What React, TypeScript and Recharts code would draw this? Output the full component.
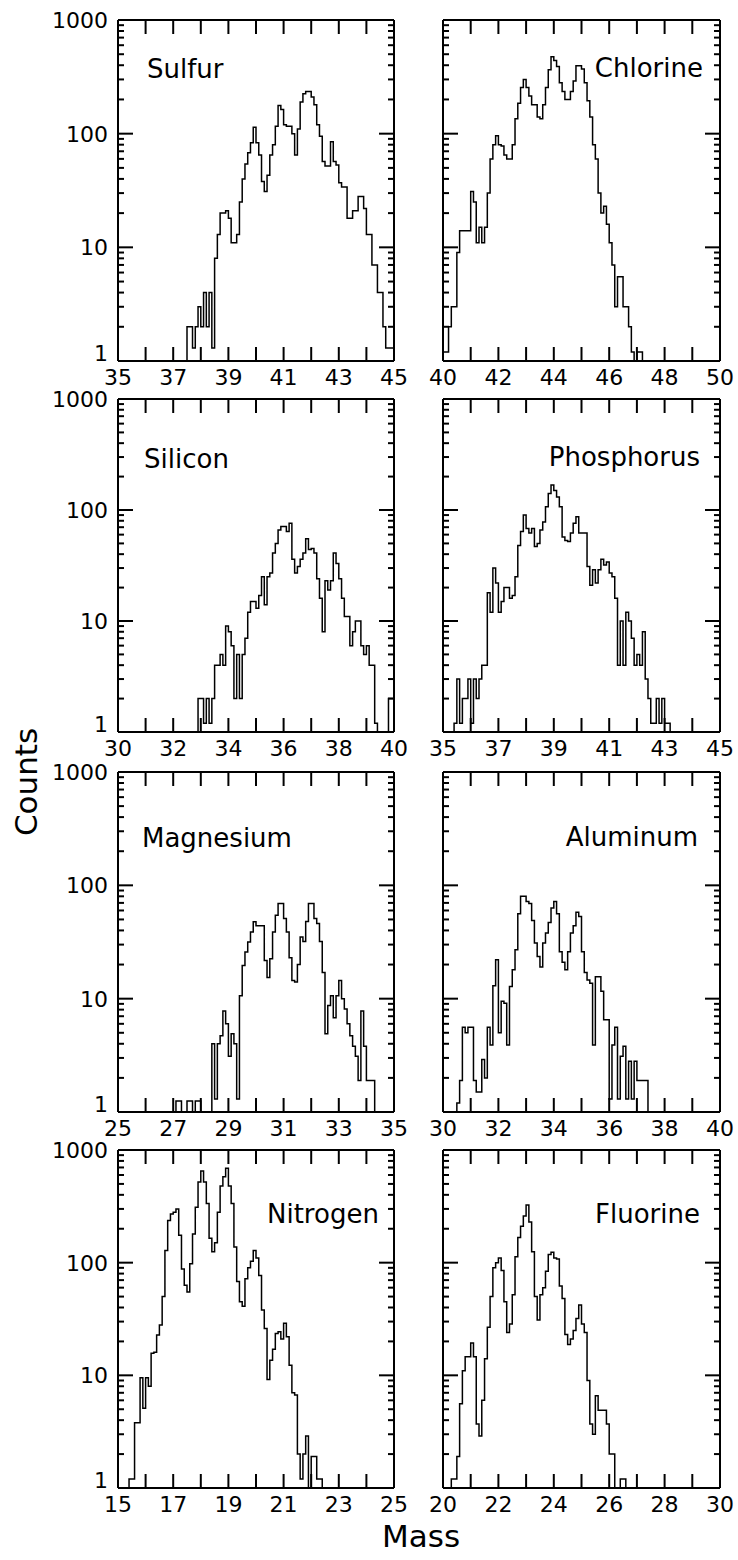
import { LineChart, Line, XAxis, YAxis, ReferenceLine } from 'recharts';

// bin width of every histogram, in mass units
const binWidth = 0.1;

// counts per bin (first bin starts at *Start)
const sulfurStart = 37.5;
const sulfurCounts = [
  2, 2, 1.3, 2, 3, 2, 4, 2, 4, 1.3,
  8, 13, 20, 20, 21, 18, 11, 11, 13, 25,
  40, 54, 68, 83, 114, 83, 65, 38, 31, 43,
  65, 80, 116, 177, 163, 120, 116, 116, 100, 65,
  110, 190, 225, 235, 235, 210, 180, 120, 95, 57,
  52, 52, 85, 57, 53, 37, 34, 34, 18,
  18, 21, 21, 28, 28, 22, 13, 13, 7, 7,
  4, 4, 2, 1.3, 1.3, 1.3,
];

const chlorineStart = 40.0;
const chlorineCounts = [
  1.2, 1.2, 2, 3, 3, 9, 14, 14, 14, 14,
  31, 25, 11, 15, 11, 15, 30, 60, 80, 96,
  80, 78, 65, 60, 60, 80, 135, 185, 255, 300,
  255, 215, 180, 180, 140, 135, 180, 255, 365, 475,
  440, 390, 280, 235, 200, 200, 235, 290, 395, 395,
  370, 280, 195, 140, 80, 60, 30, 20, 23, 16,
  11, 7, 3, 5.5, 5.5, 3, 3, 2, 1.2, 1,
  1.2, 1.2,
];

const siliconStart = 32.9;
const siliconCounts = [
  2, 2, 1.2, 2, 1.2, 2, 4, 4, 5, 4,
  9, 8, 6, 2, 5, 2, 5, 7, 12, 15,
  15, 13, 17, 25, 14, 25, 27, 41, 50, 66,
  71, 71, 64, 76, 36, 27, 31, 36, 41, 55,
  44, 45, 41, 24, 16, 8, 23, 19, 23, 41,
  33, 24, 16, 11, 11, 6, 8, 10, 10, 6,
  5, 6, 4, 4, 1.2, 1, 1, 1, 1, 2, 2,
];

const phosphorusStart = 35.4;
const phosphorusCounts = [
  1.2, 3, 1.2, 2, 2, 3, 1.2, 3, 2, 3,
  4, 4, 18, 12, 30, 22, 12, 15, 20, 20,
  16, 17, 25, 48, 64, 90, 68, 62, 68, 47,
  50, 66, 78, 107, 141, 168, 150, 131, 107, 57,
  53, 52, 62, 76, 87, 62, 62, 62, 31, 21,
  29, 22, 29, 36, 32, 34, 27, 25, 16, 4,
  10, 4, 12, 10, 7, 4, 5, 4, 8, 3,
  2, 1.2, 1.2, 2, 1.2, 2, 1.2, 1.2,
];

const magnesiumStart = 27.1;
const magnesiumCounts = [
  1.25, 1.25, 1, 1, 1.25, 1.25, 1, 1.25, 1.25, 1,
  1, 1, 1, 4, 1.3, 4, 4.7, 7.8, 6, 3.1,
  4.9, 4, 1.3, 10.6, 19.6, 25.8, 31.6, 38.7, 47.6, 44,
  44, 44, 21.7, 15.4, 22.5, 38.7, 54.5, 69, 69, 51,
  38.7, 23, 14.5, 14, 20, 35, 32, 48, 69, 69,
  51, 46, 32, 17, 4.9, 8.7, 10.6, 6.8, 10.6, 14.5,
  10, 8.1, 6, 4.7, 3.8, 3.1, 1.9, 7.8, 3.8, 1.9,
  1.9, 1.9,
];

const aluminumStart = 30.5;
const aluminumCounts = [
  1.2, 1.9, 5.6, 5, 5.6, 5.6, 1.9, 1.5, 1.5, 2.9,
  2, 5.6, 3.9, 13, 22, 5, 9.5, 9.1, 3.9, 12.8,
  18, 27, 56, 80, 80, 72, 69, 49, 31, 23.5,
  19, 31, 38, 47, 63, 72, 56, 26, 21, 18,
  26, 38, 44, 58, 53, 26, 17, 14.6, 13.7, 3.9,
  15.6, 15.6, 11.6, 6.5, 6.5, 1.3, 3.9, 5.6, 1.3, 3.1,
  3.8, 1.3, 2.8, 1.3, 2.8, 1.9, 1.9, 1.9, 1.9,
];

const nitrogenStart = 15.4;
const nitrogenCounts = [
  1.2, 1.2, 3.8, 3.8, 9.5, 5.1, 9.5, 8, 15.7, 16,
  22.8, 28, 50, 128, 237, 270, 280, 300, 175, 88,
  63, 55, 98, 180, 310, 520, 650, 520, 335, 165,
  125, 150, 280, 480, 580, 690, 480, 335, 138, 68,
  45, 41, 72, 90, 103, 128, 110, 77, 38, 26,
  9.2, 13.6, 17, 23.5, 24.4, 21, 29, 22, 12.3, 7,
  6.7, 2, 1.2, 2, 2.9, 1, 1.9, 1.9, 1.2, 1.2,
];

const fluorineStart = 20.3;
const fluorineCounts = [
  1.2, 1.2, 1.9, 5.6, 11, 14.6, 14.6, 19.4, 14.6, 3.7,
  2.9, 6, 14, 26.7, 50, 90, 100, 110, 85, 45,
  24, 28.6, 52, 113, 167, 210, 260, 325, 230, 125,
  50, 31, 52, 60, 84, 118, 124, 110, 108, 62,
  48, 23, 18.8, 21, 25, 32, 42, 28.6, 24, 9,
  3.7, 3, 6.6, 4.9, 4.9, 4.9, 3.7, 2, 2, 1,
  1, 1.2, 1.2,
];

// axis labels
const sulfurLabels = [35, 37, 39, 41, 43, 45];
const chlorineLabels = [40, 42, 44, 46, 48, 50];
const siliconLabels = [30, 32, 34, 36, 38, 40];
const phosphorusLabels = [35, 37, 39, 41, 43, 45];
const magnesiumLabels = [25, 27, 29, 31, 33, 35];
const aluminumLabels = [30, 32, 34, 36, 38, 40];
const nitrogenLabels = [15, 17, 19, 21, 23, 25];
const fluorineLabels = [20, 22, 24, 26, 28, 30];

const yMajorTicks = [1, 10, 100, 1000];
const yMinorTicks = [
  2, 3, 4, 5, 6, 7, 8, 9,
  20, 30, 40, 50, 60, 70, 80, 90,
  200, 300, 400, 500, 600, 700, 800, 900,
];

const font = 'DejaVu Sans, sans-serif';
const cols = [{ x: 118, w: 276 }, { x: 443, w: 277 }];
const rows = [
  { y: 20, h: 341 },
  { y: 399, h: 333 },
  { y: 772, h: 340 },
  { y: 1150, h: 338 },
];

const panels = [
  { name: 'Sulfur', start: sulfurStart, counts: sulfurCounts, labels: sulfurLabels, col: 0, row: 0, anchor: 'start', tx: 147, ty: 78 },
  { name: 'Chlorine', start: chlorineStart, counts: chlorineCounts, labels: chlorineLabels, col: 1, row: 0, anchor: 'end', tx: 703, ty: 77 },
  { name: 'Silicon', start: siliconStart, counts: siliconCounts, labels: siliconLabels, col: 0, row: 1, anchor: 'start', tx: 144, ty: 468 },
  { name: 'Phosphorus', start: phosphorusStart, counts: phosphorusCounts, labels: phosphorusLabels, col: 1, row: 1, anchor: 'end', tx: 700, ty: 466 },
  { name: 'Magnesium', start: magnesiumStart, counts: magnesiumCounts, labels: magnesiumLabels, col: 0, row: 2, anchor: 'start', tx: 142, ty: 847 },
  { name: 'Aluminum', start: aluminumStart, counts: aluminumCounts, labels: aluminumLabels, col: 1, row: 2, anchor: 'end', tx: 698, ty: 846 },
  { name: 'Nitrogen', start: nitrogenStart, counts: nitrogenCounts, labels: nitrogenLabels, col: 0, row: 3, anchor: 'start', tx: 267, ty: 1223 },
  { name: 'Fluorine', start: fluorineStart, counts: fluorineCounts, labels: fluorineLabels, col: 1, row: 3, anchor: 'end', tx: 700, ty: 1223 },
];

// histogram -> step points (rises from and falls back to the floor of the axis)
function toSteps(start: number, counts: number[]) {
  const edge = (i: number) => Math.round((start + i * binWidth) * 100) / 100;
  const pts = [{ m: edge(0), c: 1 }];
  counts.forEach((c, i) => pts.push({ m: edge(i), c }));
  const end = edge(counts.length);
  pts.push({ m: end, c: counts[counts.length - 1] });
  pts.push({ m: end, c: 1 });
  return pts;
}

function XTick(props: any) {
  const { x, y, payload, labels, lo, hi } = props;
  const v = payload.value;
  const edge = v === lo || v === hi;
  return (
    <g>
      {!edge && <line x1={x} x2={x} y1={y} y2={y - 14} stroke="#000" strokeWidth={2} />}
      {labels.includes(v) && (
        <text x={x} y={y + 24} textAnchor="middle" fontSize={22} fontFamily={font} fill="#000">
          {v}
        </text>
      )}
    </g>
  );
}

function YLabel(props: any) {
  const { x, y, payload } = props;
  const v = payload.value;
  return (
    <text x={x - 10} y={v === 1 ? y : y + 8} textAnchor="end" fontSize={22} fontFamily={font} fill="#000">
      {v}
    </text>
  );
}

function Panel({ p }: { p: (typeof panels)[number] }) {
  const col = cols[p.col];
  const row = rows[p.row];
  const mL = p.col === 0 ? 118 : 20;
  const mT = 14, mR = 14, mB = 40;
  const lo = p.labels[0];
  const hi = p.labels[p.labels.length - 1];
  const xTicks = Array.from({ length: hi - lo + 1 }, (_, i) => lo + i);
  const data = toSteps(p.start, p.counts);
  const frame = { stroke: '#000', strokeWidth: 2 };
  // inward tick lengths turned into data units of this panel
  const perPx = (hi - lo) / col.w;
  const majorLen = 15 * perPx;
  const minorLen = 6 * perPx;
  const topEnd = 1000 / Math.pow(10, (14 * 3) / row.h);
  const yMarks = [
    ...yMajorTicks.filter((v) => v > 1 && v < 1000).map((v) => ({ v, len: majorLen })),
    ...yMinorTicks.map((v) => ({ v, len: minorLen })),
  ];
  const tickStyle = { stroke: '#000', strokeWidth: 2, ifOverflow: 'visible' as const, xAxisId: 'b', yAxisId: 'l' };
  return (
    <div style={{ position: 'absolute', left: col.x - mL, top: row.y - mT }}>
      <LineChart
        width={col.w + mL + mR}
        height={row.h + mT + mB}
        data={data}
        margin={{ top: mT - 1, right: mR - 1, bottom: mB - 1, left: mL - 1 }}
      >
        <XAxis
          xAxisId="b" type="number" dataKey="m" domain={[lo, hi]} allowDataOverflow
          ticks={xTicks} interval={0} height={1} tickSize={0} tickMargin={0}
          tickLine={false} axisLine={frame}
          tick={(t: any) => <XTick {...t} labels={p.labels} lo={lo} hi={hi} />}
        />
        <XAxis
          xAxisId="t" orientation="top" type="number" dataKey="m" domain={[lo, hi]} allowDataOverflow
          height={1} tick={false} tickLine={false} axisLine={frame}
        />
        <YAxis
          yAxisId="l" type="number" scale="log" dataKey="c" domain={[1, 1000]} allowDataOverflow
          ticks={yMajorTicks} interval={0} width={1} tickSize={0} tickMargin={0}
          tickLine={false} axisLine={frame}
          tick={p.col === 0 ? (t: any) => <YLabel {...t} /> : false}
        />
        <YAxis
          yAxisId="r" orientation="right" type="number" scale="log" dataKey="c" domain={[1, 1000]} allowDataOverflow
          width={1} tick={false} tickLine={false} axisLine={frame}
        />
        {yMarks.map(({ v, len }) => (
          <ReferenceLine key={`l${v}`} {...tickStyle} segment={[{ x: lo, y: v }, { x: lo + len, y: v }]} />
        ))}
        {yMarks.map(({ v, len }) => (
          <ReferenceLine key={`r${v}`} {...tickStyle} segment={[{ x: hi - len, y: v }, { x: hi, y: v }]} />
        ))}
        {xTicks.filter((m) => m > lo && m < hi).map((m) => (
          <ReferenceLine key={`t${m}`} {...tickStyle} segment={[{ x: m, y: 1000 }, { x: m, y: topEnd }]} />
        ))}
        <Line
          xAxisId="b" yAxisId="l" type="stepAfter" dataKey="c"
          stroke="#000" strokeWidth={1.5} dot={false} isAnimationActive={false}
        />
      </LineChart>
    </div>
  );
}

export default function App() {
  return (
    <div style={{ position: 'absolute', left: 0, top: 0, width: 738, height: 1560, background: '#fff' }}>
      {panels.map((p) => (
        <Panel key={p.name} p={p} />
      ))}
      <svg width={738} height={1560} style={{ position: 'absolute', left: 0, top: 0, pointerEvents: 'none' }}>
        {panels.map((p) => (
          <text key={p.name} x={p.tx} y={p.ty} textAnchor={p.anchor as any} fontSize={26} fontFamily={font} fill="#000">
            {p.name}
          </text>
        ))}
        <text transform="translate(37, 782) rotate(-90)" textAnchor="middle" fontSize={31} fontFamily={font} fill="#000">
          Counts
        </text>
        <text x={382} y={1547} fontSize={31} fontFamily={font} fill="#000">
          Mass
        </text>
      </svg>
    </div>
  );
}
